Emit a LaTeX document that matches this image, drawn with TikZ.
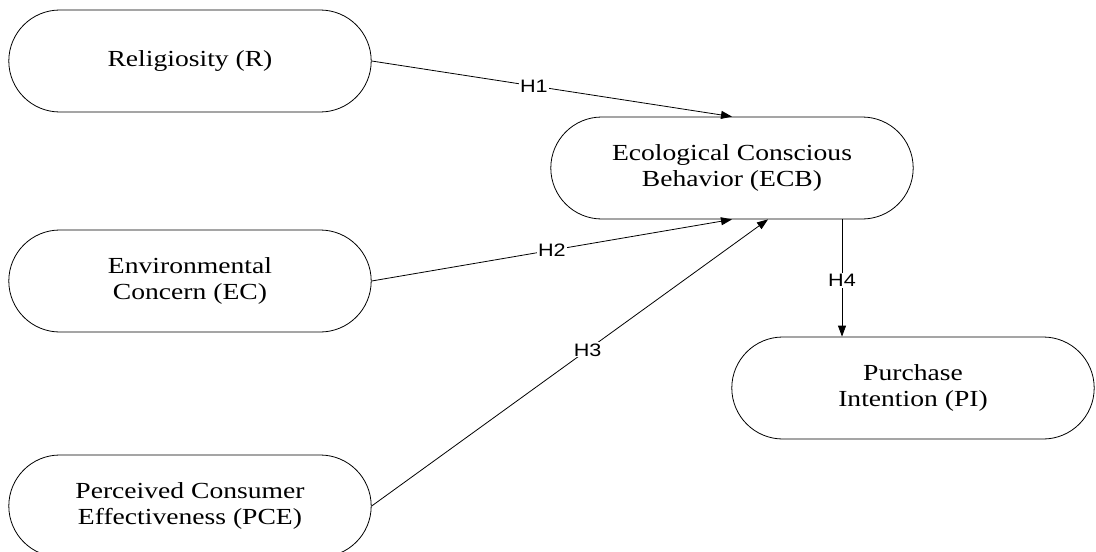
\documentclass[tikz,border=0pt]{standalone}
\usepackage{fontspec}
\setmainfont{Liberation Serif}
\newfontfamily\hypfont{Liberation Sans}
\usetikzlibrary{arrows.meta}

\begin{document}
\begin{tikzpicture}[x=1pt,y=-1pt,
        var/.style={draw, line width=0.8pt, rounded corners=51pt, minimum width=302pt, minimum height=102pt, xscale=1.2, align=center, font=\fontsize{23}{26}\selectfont},
        hyp/.style={fill=white, inner sep=1pt, xscale=1.2, font=\hypfont\fontsize{18}{20}\selectfont},
        link/.style={line width=0.8pt, -{Triangle[length=11pt,width=8pt]}}]
                \useasboundingbox (0,0) rectangle (1096,552);
                \node[var] (R) at (190,61) {Religiosity (R)};
                \node[var] (EC) at (190,281) {Environmental\\Concern (EC)};
                \node[var] (PCE) at (190,506) {Perceived Consumer\\Effectiveness (PCE)};
                \node[var] (ECB) at (732,168) {Ecological Conscious\\Behavior (ECB)};
                \node[var] (PI) at (913,388) {Purchase\\Intention (PI)};
                \draw[link] (R.east) -- node[hyp, pos=0.45]{H1} (ECB.north);
                \draw[link] (EC.east) -- node[hyp, pos=0.5]{H2} (ECB.south);
                \draw[link] (PCE.east) -- node[hyp, pos=0.545]{H3} ([xshift=36pt]ECB.south);
                \draw[link] ([xshift=110pt]ECB.south) -- node[hyp, pos=0.52]{H4} ([xshift=110pt]ECB.south |- PI.north);
            \end{tikzpicture}
\end{document}
